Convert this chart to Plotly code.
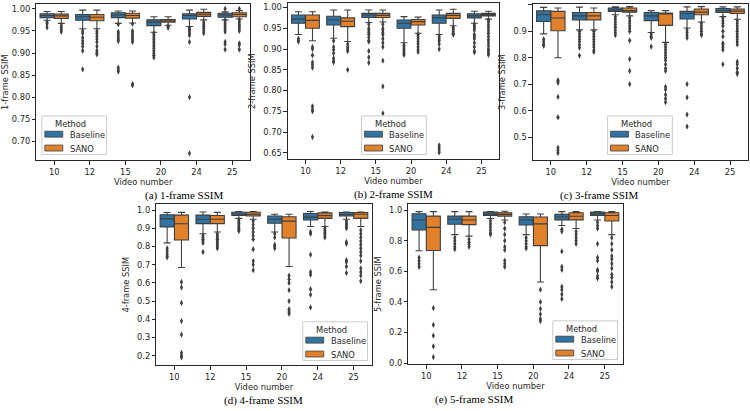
import plotly.graph_objects as go

videos = ["10", "12", "15", "20", "24", "25"]
methods = ["Baseline", "SANO"]
colors = {"Baseline": "#3274a1", "SANO": "#e1812c"}

# ---- panel (a) 1-frame SSIM : [lowerfence, q1, median, q3, upperfence] per video
a_base = [[0.974, 0.980, 0.985, 0.989, 0.994], [0.955, 0.974, 0.982, 0.987, 0.997], [0.967, 0.980, 0.986, 0.991, 0.995],
          [0.947, 0.962, 0.970, 0.975, 0.982], [0.960, 0.977, 0.985, 0.989, 0.997], [0.975, 0.981, 0.986, 0.990, 0.993]]
a_sano = [[0.967, 0.978, 0.984, 0.988, 0.994], [0.955, 0.973, 0.981, 0.987, 0.997], [0.968, 0.979, 0.985, 0.990, 0.995],
          [0.963, 0.970, 0.973, 0.976, 0.982], [0.975, 0.983, 0.988, 0.992, 0.999], [0.977, 0.982, 0.987, 0.991, 0.996]]
a_base_out = [[0.970, 0.966, 0.958], [0.950, 0.945, 0.935, 0.928, 0.922, 0.915, 0.905, 0.863],
              [0.965, 0.948, 0.945, 0.940, 0.935, 0.930, 0.927, 0.867, 0.862, 0.858],
              [0.945, 0.940, 0.935, 0.930, 0.925, 0.920, 0.915, 0.910, 0.905, 0.900, 0.895, 0.890],
              [0.957, 0.953, 0.950, 0.945, 0.940, 0.925, 0.800, 0.673],
              [1.000, 0.973, 0.968, 0.963, 0.958, 0.953, 0.948, 0.925, 0.920, 0.908]]
a_sano_out = [[0.962, 0.958, 0.953, 0.948], [0.950, 0.945, 0.938, 0.932, 0.925, 0.915, 0.905, 0.900, 0.897],
              [0.966, 0.950, 0.945, 0.940, 0.935, 0.930, 0.925, 0.830, 0.827],
              [0.960, 0.957], [0.970, 0.965, 0.960, 0.955, 0.950, 0.945],
              [1.000, 0.975, 0.970, 0.965, 0.960, 0.955, 0.950, 0.922, 0.918, 0.908]]

# ---- panel (b) 2-frame SSIM
b_base = [[0.935, 0.962, 0.972, 0.982, 0.990], [0.926, 0.958, 0.970, 0.979, 0.994], [0.964, 0.976, 0.982, 0.986, 0.994],
          [0.915, 0.950, 0.962, 0.970, 0.978], [0.935, 0.962, 0.975, 0.982, 0.994], [0.962, 0.975, 0.980, 0.985, 0.991]]
b_sano = [[0.920, 0.950, 0.969, 0.982, 0.990], [0.918, 0.954, 0.967, 0.975, 0.994], [0.965, 0.976, 0.981, 0.986, 0.994],
          [0.938, 0.958, 0.966, 0.971, 0.977], [0.956, 0.974, 0.981, 0.986, 0.996], [0.972, 0.980, 0.983, 0.986, 0.991]]
b_base_out = [[0.925, 0.920, 0.918], [0.920, 0.905, 0.898, 0.890, 0.878, 0.872, 0.868],
              [0.960, 0.950, 0.945, 0.940, 0.935, 0.928, 0.920, 0.918, 0.895, 0.880, 0.867],
              [0.910, 0.905, 0.900, 0.895, 0.890, 0.886],
              [0.930, 0.925, 0.920, 0.912, 0.900, 0.668, 0.662, 0.657, 0.651],
              [0.960, 0.955, 0.950, 0.945, 0.935, 0.930, 0.925, 0.915, 0.905, 0.895, 0.892]]
b_sano_out = [[0.905, 0.900, 0.885, 0.868, 0.862, 0.855, 0.762, 0.755, 0.750, 0.688],
              [0.912, 0.905, 0.900, 0.895, 0.850],
              [0.960, 0.950, 0.945, 0.940, 0.935, 0.925, 0.915, 0.905, 0.872, 0.810, 0.745],
              [0.935, 0.930, 0.925, 0.918, 0.912, 0.905, 0.898, 0.893],
              [0.952, 0.948, 0.943, 0.938, 0.935],
              [0.970, 0.965, 0.958, 0.952, 0.945, 0.938, 0.930, 0.922, 0.915, 0.908, 0.900, 0.895, 0.890, 0.886]]

# ---- panel (c) 3-frame SSIM
c_base = [[0.890, 0.937, 0.962, 0.977, 0.990], [0.905, 0.943, 0.958, 0.971, 0.991], [0.962, 0.975, 0.980, 0.988, 0.992],
          [0.895, 0.940, 0.958, 0.971, 0.978], [0.912, 0.946, 0.967, 0.975, 0.992], [0.955, 0.971, 0.978, 0.986, 0.992]]
c_sano = [[0.800, 0.902, 0.950, 0.975, 0.988], [0.905, 0.943, 0.958, 0.971, 0.988], [0.958, 0.972, 0.978, 0.988, 0.993],
          [0.858, 0.922, 0.965, 0.969, 0.978], [0.935, 0.962, 0.972, 0.984, 0.993], [0.945, 0.967, 0.976, 0.984, 0.992]]
c_base_out = [[0.870, 0.860, 0.850, 0.845], [0.900, 0.890, 0.880, 0.870, 0.860, 0.848, 0.838, 0.808],
              [0.955, 0.945, 0.935, 0.925, 0.915, 0.905, 0.895, 0.885],
              [0.890, 0.880, 0.875, 0.842],
              [0.905, 0.895, 0.885, 0.875, 0.700, 0.650, 0.585, 0.540],
              [0.950, 0.940, 0.930, 0.920, 0.900, 0.880, 0.855, 0.850, 0.840, 0.830, 0.775]]
c_sano_out = [[0.715, 0.710, 0.705, 0.652, 0.575, 0.460, 0.450, 0.440],
              [0.900, 0.890, 0.880, 0.870, 0.860, 0.850, 0.840, 0.828, 0.822],
              [0.950, 0.940, 0.930, 0.920, 0.910, 0.900, 0.865, 0.795, 0.750, 0.700],
              [0.850, 0.840, 0.830, 0.820, 0.810, 0.800, 0.790, 0.775, 0.760, 0.750, 0.690, 0.680, 0.660, 0.645, 0.632],
              [0.930, 0.920, 0.910, 0.900, 0.890, 0.885],
              [0.940, 0.930, 0.920, 0.910, 0.900, 0.890, 0.880, 0.870, 0.860, 0.850, 0.785, 0.775, 0.760, 0.745, 0.738]]

# ---- panel (d) 4-frame SSIM
d_base = [[0.820, 0.908, 0.952, 0.975, 0.987], [0.870, 0.926, 0.950, 0.973, 0.990], [0.955, 0.971, 0.978, 0.989, 0.993],
          [0.880, 0.928, 0.950, 0.968, 0.978], [0.910, 0.946, 0.962, 0.982, 0.993], [0.950, 0.968, 0.976, 0.987, 0.990]]
d_sano = [[0.685, 0.836, 0.925, 0.973, 0.988], [0.880, 0.926, 0.950, 0.971, 0.988], [0.950, 0.968, 0.977, 0.989, 0.993],
          [0.690, 0.847, 0.940, 0.964, 0.978], [0.910, 0.955, 0.970, 0.985, 0.990], [0.910, 0.955, 0.978, 0.987, 0.990]]
d_base_out = [[0.790, 0.775, 0.760, 0.748, 0.740], [0.860, 0.850, 0.840, 0.830, 0.820, 0.770],
              [0.945, 0.935, 0.925, 0.915, 0.905, 0.895, 0.885],
              [0.870, 0.850, 0.810, 0.800, 0.790],
              [0.880, 0.870, 0.755, 0.660, 0.645, 0.565, 0.535, 0.465],
              [0.940, 0.930, 0.920, 0.910, 0.900, 0.825, 0.815, 0.725, 0.715, 0.690, 0.655]]
d_sano_out = [[0.605, 0.575, 0.490, 0.390, 0.315, 0.215, 0.200, 0.190],
              [0.870, 0.860, 0.850, 0.840, 0.830, 0.820, 0.810, 0.800, 0.790],
              [0.940, 0.920, 0.900, 0.880, 0.860, 0.840, 0.785, 0.720, 0.700, 0.670],
              [0.640, 0.620, 0.600, 0.560, 0.500, 0.455, 0.440, 0.430],
              [0.900, 0.890, 0.880, 0.870, 0.860, 0.850],
              [0.890, 0.870, 0.850, 0.830, 0.810, 0.790, 0.770, 0.750, 0.720, 0.680, 0.660, 0.640, 0.610]]

# ---- panel (e) 5-frame SSIM
e_base = [[0.735, 0.871, 0.935, 0.976, 0.990], [0.840, 0.908, 0.940, 0.961, 0.990], [0.945, 0.966, 0.975, 0.987, 0.990],
          [0.840, 0.903, 0.935, 0.957, 0.975], [0.900, 0.936, 0.955, 0.972, 0.990], [0.935, 0.966, 0.976, 0.987, 0.990]]
e_sano = [[0.480, 0.736, 0.887, 0.961, 0.990], [0.830, 0.905, 0.935, 0.961, 0.990], [0.935, 0.961, 0.972, 0.983, 0.993],
          [0.530, 0.768, 0.910, 0.955, 0.975], [0.880, 0.936, 0.960, 0.983, 0.990], [0.840, 0.929, 0.965, 0.983, 0.990]]
e_base_out = [[0.690, 0.670, 0.650, 0.630], [0.820, 0.800, 0.780, 0.760, 0.745],
              [0.930, 0.910, 0.890, 0.870, 0.850, 0.840],
              [0.820, 0.800, 0.780, 0.760, 0.750],
              [0.875, 0.860, 0.730, 0.630, 0.610, 0.500, 0.480, 0.450, 0.420],
              [0.920, 0.900, 0.880, 0.780, 0.690, 0.670, 0.610, 0.600, 0.570, 0.555]]
e_sano_out = [[0.360, 0.250, 0.180, 0.110, 0.040], [0.810, 0.790, 0.775, 0.760],
              [0.920, 0.880, 0.840, 0.800, 0.760, 0.740, 0.670, 0.650, 0.630],
              [0.480, 0.400, 0.355, 0.320, 0.290, 0.275],
              [0.860, 0.840, 0.820, 0.800, 0.780],
              [0.820, 0.780, 0.740, 0.700, 0.680, 0.650, 0.620, 0.580, 0.560, 0.530, 0.500]]

panels = [
    dict(stats={"Baseline": a_base, "SANO": a_sano}, outl={"Baseline": a_base_out, "SANO": a_sano_out},
         ylabel="1-frame SSIM", caption="(a) 1-frame SSIM", yrange=[0.657, 1.011], dtick=0.05, fmt=".2f",
         xdom=[33.5, 248], ydom=[4, 162], leg=[39, 117]),
    dict(stats={"Baseline": b_base, "SANO": b_sano}, outl={"Baseline": b_base_out, "SANO": b_sano_out},
         ylabel="2-frame SSIM", caption="(b) 2-frame SSIM", yrange=[0.634, 1.011], dtick=0.05, fmt=".2f",
         xdom=[286, 498], ydom=[3, 161], leg=[360, 117]),
    dict(stats={"Baseline": c_base, "SANO": c_sano}, outl={"Baseline": c_base_out, "SANO": c_sano_out},
         ylabel="3-frame SSIM", caption="(c) 3-frame SSIM", yrange=[0.412, 1.003], dtick=0.1, fmt=".1f",
         xdom=[532, 748], ydom=[4, 162], leg=[607, 117]),
    dict(stats={"Baseline": d_base, "SANO": d_sano}, outl={"Baseline": d_base_out, "SANO": d_sano_out},
         ylabel="4-frame SSIM", caption="(d) 4-frame SSIM", yrange=[0.146, 1.034], dtick=0.1, fmt=".1f",
         xdom=[154, 370], ydom=[206, 369], leg=[301, 325]),
    dict(stats={"Baseline": e_base, "SANO": e_sano}, outl={"Baseline": e_base_out, "SANO": e_sano_out},
         ylabel="5-frame SSIM", caption="(e) 5-frame SSIM", yrange=[-0.008, 1.04], dtick=0.2, fmt=".1f",
         xdom=[407, 622], ydom=[206, 368], leg=[552, 324]),
]

W, H = 750, 411
TXT = "#262626"
LINE = "#3f3f3f"
FS = 8.3
fig = go.Figure()
offsets = {"Baseline": -0.2, "SANO": 0.2}
shapes = []


def px(x):
    return x / W


def py(y):
    return 1 - y / H


for k, p in enumerate(panels):
    n = k + 1
    xa = "x" if n == 1 else f"x{n}"
    ya = "y" if n == 1 else f"y{n}"
    for m in methods:
        st = p["stats"][m]
        xs = [i + offsets[m] for i in range(len(videos))]
        fig.add_trace(go.Box(
            x=xs, lowerfence=[s[0] for s in st], q1=[s[1] for s in st], median=[s[2] for s in st],
            q3=[s[3] for s in st], upperfence=[s[4] for s in st],
            width=0.392, fillcolor=colors[m], line=dict(color=LINE, width=1.1),
            whiskerwidth=0.5, boxpoints=False, name=m, showlegend=False,
            xaxis=xa, yaxis=ya, hoverinfo="skip"))
        ox, oy = [], []
        for i, vals in enumerate(p["outl"][m]):
            ox += [i + offsets[m]] * len(vals)
            oy += vals
        fig.add_trace(go.Scatter(
            x=ox, y=oy, mode="markers", showlegend=False, xaxis=xa, yaxis=ya,
            marker=dict(symbol="diamond-tall", size=4.5, color=LINE, line=dict(width=0)),
            hoverinfo="skip"))

    x0, x1 = p["xdom"]
    y0, y1 = p["ydom"]
    axis_common = dict(showline=True, mirror=True, linecolor="#262626", linewidth=0.9,
                       ticks="outside", ticklen=3.5, tickcolor="#262626", tickwidth=0.8,
                       showgrid=False, zeroline=False,
                       tickfont=dict(family="DejaVu Sans", size=FS, color=TXT))
    fig.layout[f"xaxis{'' if n == 1 else n}"] = dict(
        axis_common, domain=[px(x0), px(x1)], anchor=ya, range=[-0.5, len(videos) - 0.5],
        tickvals=list(range(len(videos))), ticktext=videos,
        title=dict(text="Video number", font=dict(family="DejaVu Sans", size=FS, color=TXT), standoff=0))
    fig.layout[f"yaxis{'' if n == 1 else n}"] = dict(
        axis_common, domain=[py(y1), py(y0)], anchor=xa, range=p["yrange"],
        dtick=p["dtick"], tick0=0, tickformat=p["fmt"],
        title=dict(text=p["ylabel"], font=dict(family="DejaVu Sans", size=FS, color=TXT), standoff=6))

    # legend box (drawn)
    lx, ly = p["leg"]
    shapes.append(dict(type="rect", xref="paper", yref="paper", x0=px(lx), x1=px(lx + 65),
                       y0=py(ly + 39), y1=py(ly), line=dict(color="#cccccc", width=1),
                       fillcolor="rgba(255,255,255,0.8)", layer="above"))
    fig.add_annotation(text="Method", xref="paper", yref="paper", showarrow=False,
                       x=px(lx + 29), y=py(ly + 8), xanchor="center", yanchor="middle",
                       font=dict(family="DejaVu Sans", size=FS, color=TXT))
    for j, m in enumerate(methods):
        cy = ly + 18.5 + 14 * j
        shapes.append(dict(type="rect", xref="paper", yref="paper", x0=px(lx + 3), x1=px(lx + 21),
                           y0=py(cy + 3), y1=py(cy - 3), line=dict(color=LINE, width=0.8),
                           fillcolor=colors[m], layer="above"))
        fig.add_annotation(text=m, xref="paper", yref="paper", showarrow=False,
                           x=px(lx + 26), y=py(cy + 0.5), xanchor="left", yanchor="middle",
                           font=dict(family="DejaVu Sans", size=FS, color=TXT))

    fig.add_annotation(
        text=p["caption"], xref="paper", yref="paper", showarrow=False,
        x=px((x0 + x1) / 2), y=py(y1 + 35.5), yanchor="middle",
        font=dict(family="Liberation Serif", size=11, color="#000000"))

fig.update_layout(width=W, height=H, margin=dict(l=0, r=0, t=0, b=0),
                  paper_bgcolor="white", plot_bgcolor="white", shapes=shapes)
fig.write_html("out.html", config={"displayModeBar": False},
               post_script="document.body.style.margin='0';")
